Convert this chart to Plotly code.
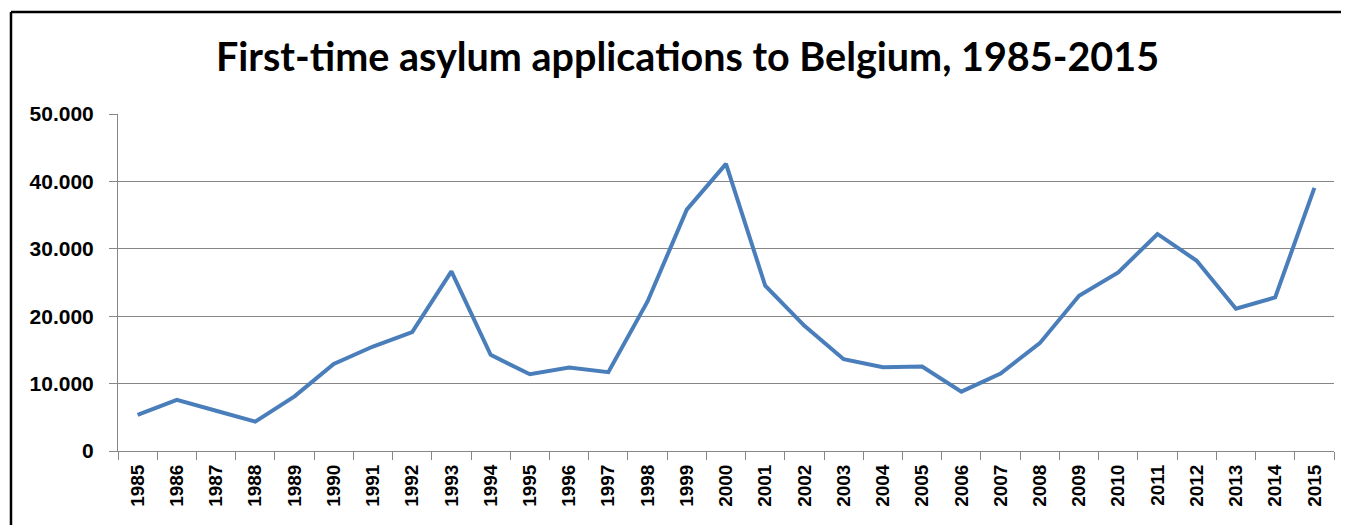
import plotly.graph_objects as go

years = [str(y) for y in range(1985, 2016)]
applications = [5350, 7580, 5970, 4350, 8100, 12930, 15500, 17640, 26640, 14260,
                11390, 12380, 11690, 22190, 35810, 42600, 24520, 18570, 13620, 12430,
                12530, 8810, 11500, 16000, 23030, 26500, 32200, 28230, 21100, 22780, 39030]
y_ticks = [0, 10000, 20000, 30000, 40000, 50000]
title_text = "First-time asylum applications to Belgium, 1985-2015"

fig = go.Figure()
fig.add_trace(go.Scatter(
    x=years, y=applications, mode="lines",
    line=dict(color="#4a7ebb", width=4),
    hoverinfo="x+y", showlegend=False,
))

border = dict(color="black", width=2.5)
fig.update_layout(
    width=1360, height=517,
    margin=dict(l=110, r=34, t=106, b=74),
    paper_bgcolor="white", plot_bgcolor="white",
    separators=",.",
    title=dict(text="<b>" + title_text + "</b>", x=679.5 / 1360, xanchor="center",
               y=0.905, yanchor="middle",
               font=dict(family="Lato", size=39.5, color="black")),
    xaxis=dict(
        type="category", range=[-0.5, 30.5],
        showgrid=False, showline=True, linecolor="#868686", linewidth=1,
        ticks="outside", tickson="boundaries", ticklen=8, tickcolor="#868686",
        tickangle=-90, ticklabelstandoff=5,
        tickfont=dict(family="Liberation Sans", size=19, color="black", weight="bold"),
    ),
    yaxis=dict(
        range=[0, 50000], tickvals=y_ticks, tickformat=",d",
        showgrid=True, gridcolor="#868686", gridwidth=1,
        showline=True, linecolor="#868686", linewidth=1,
        ticks="outside", ticklen=8, tickcolor="#868686", ticklabelstandoff=11,
        tickfont=dict(family="Liberation Sans", size=21, color="black", weight="bold"),
        zeroline=False,
    ),
    shapes=[
        dict(type="line", xref="paper", yref="paper",
             x0=-0.088, x1=1.3, y0=1.3027, y1=1.3027, line=border, layer="above"),
        dict(type="line", xref="paper", yref="paper",
             x0=-0.088, x1=-0.088, y0=-0.5, y1=1.3027, line=border, layer="above"),
    ],
)

fig.write_html("out.html")
